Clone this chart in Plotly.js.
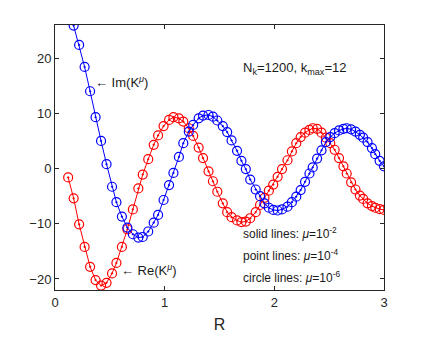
<!DOCTYPE html>
<html>
<head>
<meta charset="utf-8">
<script src="https://cdn.plot.ly/plotly-3.0.1.min.js"></script>
<style>
  body { margin: 0; background: #ffffff; }
  #KernelPlot { width: 424px; height: 341px; }
</style>
</head>
<body>
<div id="KernelPlot"></div>
<script>
// R grid
const radius = [0.12, 0.17, 0.22, 0.27, 0.32, 0.37, 0.42, 0.47, 0.52, 0.56,
  0.61, 0.66, 0.71, 0.76, 0.80, 0.85, 0.90, 0.94, 0.99, 1.04,
  1.08, 1.13, 1.17, 1.22, 1.26, 1.31, 1.35, 1.40, 1.44, 1.48,
  1.53, 1.57, 1.61, 1.66, 1.70, 1.74, 1.78, 1.83, 1.87, 1.91,
  1.95, 1.99, 2.03, 2.07, 2.12, 2.16, 2.20, 2.24, 2.28, 2.32,
  2.35, 2.39, 2.43, 2.47, 2.51, 2.55, 2.59, 2.63, 2.66, 2.70,
  2.74, 2.78, 2.81, 2.85, 2.89, 2.92, 2.96, 3.00];

// Re(K^mu)
const reK = [-1.6, -5.4, -10.1, -14.2, -17.8, -20.2, -21.2, -20.7, -19.0, -17.1,
  -14.2, -11.0, -7.4, -3.6, -1.1, 1.7, 4.3, 6.0, 7.7, 8.8,
  9.3, 9.1, 8.5, 7.3, 5.9, 3.8, 1.9, -0.5, -2.3, -4.2,
  -6.3, -7.9, -8.8, -9.4, -9.7, -9.6, -9.0, -7.9, -6.6, -5.3,
  -4.0, -2.9, -1.5, -0.1, 1.5, 3.1, 4.6, 5.7, 6.5, 7.0,
  7.3, 7.2, 6.5, 5.6, 4.6, 3.4, 1.9, 0.4, -0.9, -2.5,
  -3.8, -4.9, -5.5, -6.3, -6.8, -7.1, -7.35, -7.5];

// Im(K^mu)
const imK = [29.6, 25.9, 22.4, 18.4, 14.0, 9.3, 5.0, 0.8, -3.3, -6.1,
  -8.7, -10.7, -11.9, -12.5, -12.4, -11.4, -9.8, -8.4, -5.7, -3.0,
  -0.8, 2.1, 4.6, 6.7, 7.9, 9.1, 9.6, 9.7, 9.4, 8.7,
  7.7, 6.6, 5.1, 3.2, 1.4, -0.1, -2.0, -3.8, -5.0, -6.3,
  -7.1, -7.5, -7.6, -7.4, -6.9, -6.1, -5.1, -3.9, -2.4, -0.9,
  0.2, 1.8, 3.3, 4.8, 5.7, 6.4, 6.9, 7.2, 7.3, 7.1,
  6.7, 6.1, 5.6, 4.8, 3.7, 2.6, 1.4, 0.4];

// axis ticks
const xTicks = [0, 1, 2, 3];
const yTicks = [-20, -10, 0, 10, 20];

const axisFont = { family: 'Liberation Sans, Arial, sans-serif', size: 13, color: '#262626' };

function kernelTrace(y, color, name) {
  return {
    x: radius,
    y: y,
    type: 'scatter',
    mode: 'lines+markers',
    name: name,
    line: { color: color, width: 1 },
    marker: {
      symbol: 'circle-open-dot',
      size: 9,
      color: color,
      line: { color: color, width: 1.2 }
    }
  };
}

function label(x, y, text, size) {
  return {
    x: x, y: y, xref: 'x', yref: 'y',
    text: text,
    showarrow: false,
    xanchor: 'left',
    yanchor: 'middle',
    font: { family: 'Liberation Sans, Arial, sans-serif', size: size, color: '#1a1a1a' }
  };
}

const plotData = [
  kernelTrace(reK, '#ff0000', 'Re'),
  kernelTrace(imK, '#0000ff', 'Im')
];

const mu = '<i>\u03bc</i>';

const plotLayout = {
  width: 424,
  height: 341,
  margin: { l: 55, r: 40, t: 25, b: 51 },
  paper_bgcolor: '#ffffff',
  plot_bgcolor: '#ffffff',
  showlegend: false,
  xaxis: {
    range: [0, 3],
    tickvals: xTicks,
    ticks: 'inside',
    ticklen: 4,
    tickcolor: '#262626',
    showline: true,
    linecolor: '#262626',
    linewidth: 1,
    mirror: 'ticks',
    showgrid: false,
    zeroline: false,
    tickfont: axisFont,
    title: { text: 'R', font: { family: 'Liberation Sans, Arial, sans-serif', size: 16, color: '#262626' }, standoff: 10 }
  },
  yaxis: {
    range: [-22, 26],
    tickvals: yTicks,
    ticks: 'inside',
    ticklen: 4,
    tickcolor: '#262626',
    showline: true,
    linecolor: '#262626',
    linewidth: 1,
    mirror: 'ticks',
    showgrid: false,
    zeroline: false,
    tickfont: axisFont
  },
  annotations: [
    label(1.70, 18.2, 'N<sub>k</sub>=1200, k<sub>max</sub>=12', 13),
    label(0.35, 15.7, '\u2190 Im(K<sup>' + mu + '</sup>)', 13),
    label(0.58, -18.3, '\u2190 Re(K<sup>' + mu + '</sup>)', 13),
    label(1.70, -11.6, 'solid lines: ' + mu + '=10<sup>-2</sup>', 12),
    label(1.70, -15.6, 'point lines: ' + mu + '=10<sup>-4</sup>', 12),
    label(1.70, -19.7, 'circle lines: ' + mu + '=10<sup>-6</sup>', 12)
  ]
};

Plotly.newPlot('KernelPlot', plotData, plotLayout, { staticPlot: true });
</script>
</body>
</html>
